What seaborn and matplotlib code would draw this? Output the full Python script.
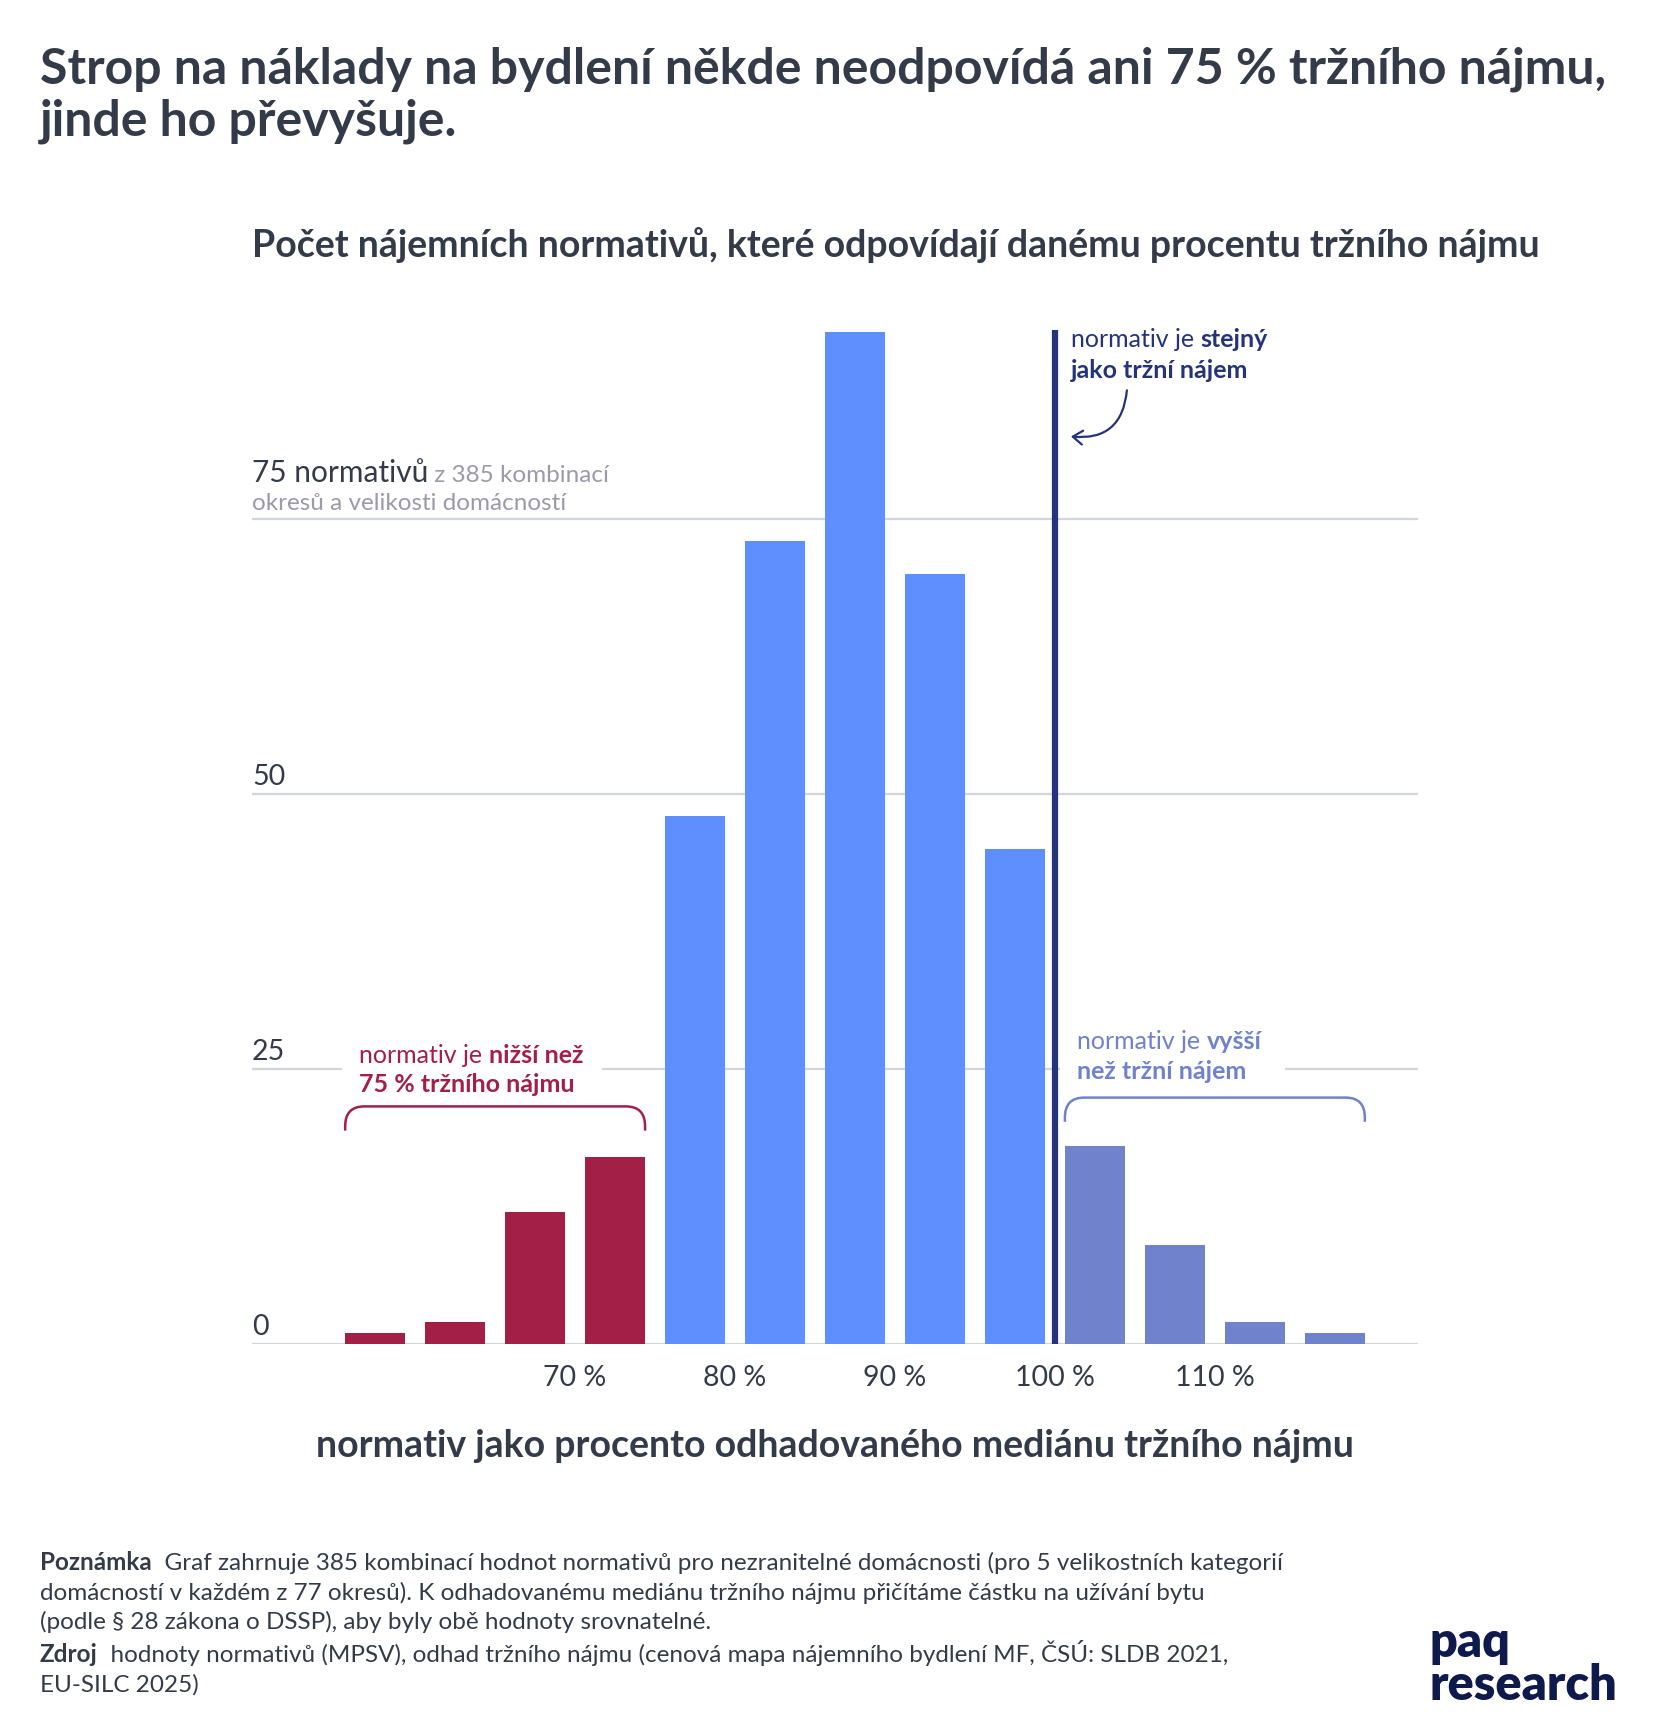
import numpy as np
import pandas as pd
import matplotlib.pyplot as plt
import matplotlib.transforms as mtransforms
from matplotlib.path import Path
from matplotlib.patches import PathPatch, FancyArrowPatch, Rectangle
import seaborn as sns

# Data: bins of 5 % (lower edge), number of rent norms in each bin
bin_from = [55, 60, 65, 70, 75, 80, 85, 90, 95, 100, 105, 110, 115]
counts = [1, 2, 12, 17, 48, 73, 92, 70, 45, 18, 9, 2, 1]
groups = ['nizsi'] * 4 + ['blizko'] * 5 + ['vyssi'] * 4
xticks = [70, 80, 90, 100, 110]
yticks = [0, 25, 50, 75]

colors = {'nizsi': '#a31f47', 'blizko': '#5f8fff', 'vyssi': '#6f82cb'}
navy = '#25347a'
dark = '#343b48'
grey = '#9b9aa8'
gridc = '#d3d5dc'

df = pd.DataFrame({'stred': np.array(bin_from) + 2.5, 'pocet': counts, 'skupina': groups})

W, H = 1664, 1718
sns.set_theme(style='white')
plt.rcParams['font.family'] = ['Lato', 'DejaVu Sans']

fig = plt.figure(figsize=(W / 100, H / 100), dpi=100)
ax = fig.add_axes([252 / W, 1 - 1344 / H, (1418 - 252) / W, 1045 / H])
r = fig.canvas.get_renderer()


def fy(y):
    return 1 - y / H


def rich(x, y, parts, transform, target):
    # text pieces with different weights / sizes on one baseline
    dx = 0
    for s, w, c, size in parts:
        tr = transform + mtransforms.ScaledTranslation(dx / 100, 0, fig.dpi_scale_trans)
        target.text(x, y, s, transform=tr, fontsize=size, fontweight=w, color=c,
                    va='baseline', ha='left', zorder=5)
        a = target.text(0, 0, s + 'x', fontsize=size, fontweight=w)
        b = target.text(0, 0, 'x', fontsize=size, fontweight=w)
        dx += a.get_window_extent(r).width - b.get_window_extent(r).width
        a.remove()
        b.remove()


for v in yticks:
    ax.axhline(v, color=gridc, lw=1.6, zorder=0.5)

sns.barplot(data=df, x='stred', y='pocet', hue='skupina', palette=colors,
            native_scale=True, dodge=False, width=0.75, legend=False,
            saturation=1, linewidth=0, ax=ax, zorder=2)

ax.set_xlim(49.8, 122.7)
ax.set_ylim(0, 95)
for s in ax.spines.values():
    s.set_visible(False)
ax.set_yticks([])
ax.set_xticks(xticks, labels=[f'{t} %' for t in xticks])
ax.tick_params(axis='x', length=0, pad=15, labelsize=20.5, labelcolor=dark)
ax.set_xlabel('')
ax.set_ylabel('')

# y labels above gridlines
yax = mtransforms.blended_transform_factory(ax.transAxes, ax.transData)
for v in yticks[:-1]:
    ax.annotate(str(v), xy=(0, v), xycoords=yax, xytext=(0, 6.2), textcoords='offset points',
                fontsize=20.5, color=dark, va='baseline', ha='left')
lab_tr = yax + mtransforms.ScaledTranslation(0, 26.5 / 72, fig.dpi_scale_trans)
rich(0, yticks[-1], [(f'{yticks[-1]} normativů', 'normal', dark, 21.5),
                     (' z 385 kombinací', 'normal', grey, 17.5)], lab_tr, ax)
ax.annotate('okresů a velikosti domácností', xy=(0, yticks[-1]), xycoords=yax,
            xytext=(0, 6.2), textcoords='offset points', fontsize=17.5, color=grey,
            va='baseline', ha='left')

# 100 % line
ax.plot([100, 100], [0, max(counts) + 0.2], color=navy, lw=4.5, zorder=3, solid_capstyle='butt')
rich(101.0, 90.6, [('normativ je ', 'normal', navy, 18), ('stejný', 'bold', navy, 18)], ax.transData, ax)
rich(101.0, 87.8, [('jako tržní nájem', 'bold', navy, 18)], ax.transData, ax)
ax.add_patch(FancyArrowPatch((104.5, 86.7), (101.0, 82.5), connectionstyle='arc3,rad=-0.5',
                             arrowstyle='->,head_length=7,head_width=5', color=navy, lw=1.6,
                             mutation_scale=1, shrinkA=0, shrinkB=0, zorder=4))


def bracket(x0, x1, ytop, yleg, color):
    rx, ry = 1.2, 1.8
    verts = [(x0, yleg), (x0, ytop - ry), (x0, ytop), (x0 + rx, ytop),
             (x1 - rx, ytop), (x1, ytop), (x1, ytop - ry), (x1, yleg)]
    codes = [Path.MOVETO, Path.LINETO, Path.CURVE3, Path.CURVE3,
             Path.LINETO, Path.CURVE3, Path.CURVE3, Path.LINETO]
    ax.add_patch(PathPatch(Path(verts, codes), fill=False, edgecolor=color, lw=1.8, zorder=4))


# lower than 75 %
red = colors['nizsi']
ax.add_patch(Rectangle((55.45, 24), 16.25, 2, facecolor='white', edgecolor='none', zorder=1))
rich(56.5, 25.55, [('normativ je ', 'normal', red, 18), ('nižší než', 'bold', red, 18)], ax.transData, ax)
rich(56.5, 22.9, [('75 % tržního nájmu', 'bold', red, 18)], ax.transData, ax)
bracket(55.625, 74.375, 21.6, 19.4, red)

# higher than market rent
pur = colors['vyssi']
ax.add_patch(Rectangle((100.3, 24), 14.1, 2, facecolor='white', edgecolor='none', zorder=1))
rich(101.4, 26.85, [('normativ je ', 'normal', pur, 18), ('vyšší', 'bold', pur, 18)], ax.transData, ax)
rich(101.4, 24.1, [('než tržní nájem', 'bold', pur, 18)], ax.transData, ax)
bracket(100.625, 119.375, 22.4, 20.2, pur)

# titles
fig.text(40 / W, fy(84), 'Strop na náklady na bydlení někde neodpovídá ani 75 % tržního nájmu,',
         fontsize=36, fontweight='bold', color=dark, va='baseline')
fig.text(40 / W, fy(136), 'jinde ho převyšuje.', fontsize=36, fontweight='bold', color=dark, va='baseline')
fig.text(252 / W, fy(257), 'Počet nájemních normativů, které odpovídají danému procentu tržního nájmu',
         fontsize=27, fontweight='bold', color=dark, va='baseline')
fig.text(835 / W, fy(1446), 'normativ jako procento odhadovaného mediánu tržního nájmu',
         fontsize=27, fontweight='bold', color=dark, va='center', ha='center')

# footer
ft = fig.transFigure
fs = 17.5
rich(40 / W, fy(1570), [('Poznámka', 'bold', dark, fs),
                        ('  Graf zahrnuje 385 kombinací hodnot normativů pro nezranitelné domácnosti '
                         '(pro 5 velikostních kategorií', 'normal', dark, fs)], ft, fig)
rich(40 / W, fy(1600), [('domácností v každém z 77 okresů). K odhadovanému mediánu tržního nájmu '
                         'přičítáme částku na užívání bytu', 'normal', dark, fs)], ft, fig)
rich(40 / W, fy(1629), [('(podle § 28 zákona o DSSP), aby byly obě hodnoty srovnatelné.', 'normal', dark, fs)],
     ft, fig)
rich(40 / W, fy(1662), [('Zdroj', 'bold', dark, fs),
                        ('  hodnoty normativů (MPSV), odhad tržního nájmu (cenová mapa nájemního '
                         'bydlení MF, ČSÚ: SLDB 2021,', 'normal', dark, fs)], ft, fig)
rich(40 / W, fy(1692), [('EU-SILC 2025)', 'normal', dark, fs)], ft, fig)

fig.text(1430 / W, fy(1657), 'paq', fontsize=35, fontweight='heavy', color='#0e1a4b', va='baseline')
fig.text(1430 / W, fy(1700), 'research', fontsize=35, fontweight='heavy', color='#0e1a4b', va='baseline')

fig.savefig('out.png', dpi=100, facecolor='white')
